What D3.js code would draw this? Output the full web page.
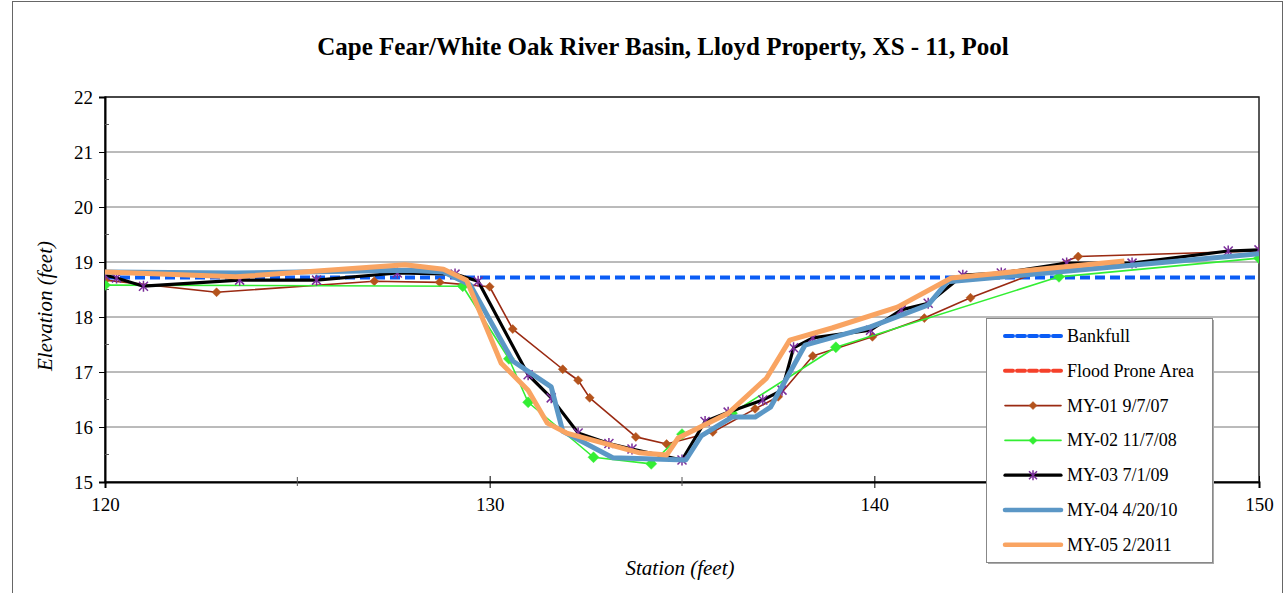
<!DOCTYPE html>
<html>
<head>
<meta charset="utf-8">
<script src="https://cdn.jsdelivr.net/npm/d3@7"></script>
<style>
  body { margin: 0; background: #fff; }
  svg { display: block; font-family: "Liberation Serif", "Times New Roman", serif; }
</style>
</head>
<body>
<svg id="chart" width="1288" height="593"></svg>
<script>
// cross section survey data, station (ft) vs elevation (ft)
var bankfullX = [120, 150];
var bankfullY = [18.72, 18.72];
// flood prone elevation sits above the plotted range, so nothing shows
var floodX = [];
var floodY = [];

var my01X = [120, 122.9, 127.0, 128.7, 130.0, 130.6, 131.9, 132.3, 132.6, 133.8, 134.6, 135.8, 136.9, 137.5, 138.4, 139.95, 141.3, 142.5, 145.3, 150];
var my01Y = [18.67, 18.45, 18.65, 18.63, 18.55, 17.78, 17.05, 16.85, 16.53, 15.82, 15.69, 15.91, 16.33, 16.55, 17.29, 17.64, 17.98, 18.35, 19.1, 19.2];

var my02X = [120, 129.3, 130.5, 131.0, 132.7, 134.2, 135.0, 136.3, 139.0, 144.8, 150];
var my02Y = [18.58, 18.56, 17.24, 16.45, 15.45, 15.33, 15.87, 16.25, 17.45, 18.73, 19.07];

var my03X = [120, 120.3, 121.0, 123.5, 125.5, 127.6, 129.1, 129.7, 131.0, 131.6, 132.3, 133.1, 133.7, 135.0, 135.6, 136.2, 137.1, 137.6, 137.9, 138.4, 139.9, 140.7, 141.4, 142.3, 143.3, 145.0, 146.7, 149.2, 150];
var my03Y = [18.76, 18.71, 18.56, 18.67, 18.67, 18.8, 18.78, 18.65, 16.95, 16.53, 15.89, 15.7, 15.6, 15.4, 16.1, 16.27, 16.49, 16.67, 17.44, 17.62, 17.76, 18.13, 18.25, 18.76, 18.8, 18.98, 18.98, 19.2, 19.22];

var my04X = [120, 123.4, 127.9, 128.8, 129.5, 130.6, 131.6, 131.9, 133.2, 135.1, 135.5, 136.3, 136.9, 137.3, 138.2, 139.9, 141.4, 141.9, 150];
var my04Y = [18.82, 18.8, 18.85, 18.82, 18.58, 17.2, 16.73, 15.92, 15.44, 15.4, 15.84, 16.18, 16.18, 16.36, 17.49, 17.82, 18.22, 18.64, 19.15];

var my05X = [120, 123.4, 127.8, 128.8, 129.4, 130.3, 131.0, 131.5, 132.0, 133.9, 134.6, 134.9, 136.2, 137.2, 137.8, 138.9, 140.6, 142.0, 146.5];
var my05Y = [18.82, 18.73, 18.95, 18.87, 18.67, 17.16, 16.67, 16.07, 15.89, 15.53, 15.49, 15.8, 16.25, 16.89, 17.58, 17.8, 18.18, 18.71, 19.02];

var xTicks = [120, 130, 140, 150];
var xMinor = [125, 135, 145];
var yTicks = [15, 16, 17, 18, 19, 20, 21, 22];
var yMinor = [15.5, 16.5, 17.5, 18.5, 19.5, 20.5, 21.5];

var titleText = "Cape Fear/White Oak River Basin, Lloyd Property, XS - 11, Pool";

function zip(xs, ys) {
	return xs.map(function(x, i) { return { x: x, y: ys[i] }; });
}

var series = [
	{ name: "Bankfull", pts: zip(bankfullX, bankfullY), color: "#0a5cf5", width: 4, dash: "10,5", marker: null },
	{ name: "Flood Prone Area", pts: zip(floodX, floodY), color: "#f5402a", width: 4, dash: "10,5", marker: null },
	{ name: "MY-01 9/7/07", pts: zip(my01X, my01Y), color: "#9a2a12", width: 1.6, marker: "diamond", mcolor: "#b4531c", msize: 9 },
	{ name: "MY-02 11/7/08", pts: zip(my02X, my02Y), color: "#33ee33", width: 1.6, marker: "diamond", mcolor: "#33ee33", msize: 11 },
	{ name: "MY-03 7/1/09", pts: zip(my03X, my03Y), color: "#000000", width: 3.2, marker: "star", mcolor: "#7a2e9a", msize: 9 },
	{ name: "MY-04 4/20/10", pts: zip(my04X, my04Y), color: "#5b97c6", width: 5, marker: null },
	{ name: "MY-05 2/2011", pts: zip(my05X, my05Y), color: "#f9a462", width: 5, marker: null }
];

var svg = d3.select("#chart");
var plotL = 105, plotR = 1259, plotT = 97, plotB = 482;

var x = d3.scaleLinear().domain([120, 150]).range([plotL, plotR]);
var y = d3.scaleLinear().domain([15, 22]).range([plotB, plotT]);

// outer frame
svg.append("rect").attr("x", 12.5).attr("y", 1.5).attr("width", 1270).attr("height", 640)
	.attr("fill", "none").attr("stroke", "#666").attr("stroke-width", 1);

svg.append("text").attr("x", 663).attr("y", 55).attr("text-anchor", "middle")
	.attr("font-size", 25).attr("font-weight", "bold").text(titleText);

// gridlines
svg.append("g").selectAll("line").data(yTicks.slice(1)).enter().append("line")
	.attr("x1", plotL).attr("x2", plotR)
	.attr("y1", function(d) { return y(d); }).attr("y2", function(d) { return y(d); })
	.attr("stroke", "#777").attr("stroke-width", 1);

// plot border
svg.append("rect").attr("x", plotL).attr("y", plotT).attr("width", plotR - plotL).attr("height", plotB - plotT)
	.attr("fill", "none").attr("stroke", "#222").attr("stroke-width", 1.5);

// y axis
var yAxis = d3.axisLeft(y).tickValues(yTicks).tickSize(6).tickPadding(6).tickFormat(d3.format("d"));
var gy = svg.append("g").attr("transform", "translate(" + plotL + ",0)").call(yAxis);
gy.select(".domain").attr("stroke", "#000").attr("stroke-width", 2);
gy.selectAll("text").attr("font-size", 19).attr("font-family", "Liberation Serif").attr("fill", "#000");
svg.append("g").selectAll("line").data(yMinor).enter().append("line")
	.attr("x1", plotL).attr("x2", plotL + 4)
	.attr("y1", function(d) { return y(d); }).attr("y2", function(d) { return y(d); })
	.attr("stroke", "#555");

// x axis
var xAxis = d3.axisBottom(x).tickValues(xTicks).tickSize(6).tickPadding(10).tickFormat(d3.format("d"));
var gx = svg.append("g").attr("transform", "translate(0," + plotB + ")").call(xAxis);
gx.select(".domain").attr("stroke", "#000").attr("stroke-width", 2);
gx.selectAll(".tick line").attr("y1", -6);
gx.selectAll("text").attr("font-size", 19).attr("font-family", "Liberation Serif").attr("fill", "#000");
svg.append("g").selectAll("line").data(xMinor).enter().append("line")
	.attr("x1", function(d) { return x(d); }).attr("x2", function(d) { return x(d); })
	.attr("y1", plotB - 5).attr("y2", plotB + 4)
	.attr("stroke", "#555");

svg.append("text").attr("x", 680).attr("y", 575).attr("text-anchor", "middle")
	.attr("font-size", 21).attr("font-style", "italic").text("Station (feet)");
svg.append("text").attr("transform", "translate(52,306) rotate(-90)").attr("text-anchor", "middle")
	.attr("font-size", 21).attr("font-style", "italic").text("Elevation (feet)");

// series
svg.append("clipPath").attr("id", "plotclip").append("rect")
	.attr("x", plotL).attr("y", plotT).attr("width", plotR - plotL).attr("height", plotB - plotT);

var line = d3.line().x(function(d) { return x(d.x); }).y(function(d) { return y(d.y); });

function drawMarker(g, type, cx, cy, s, color) {
	if (type === "diamond") {
		var h = s / 2;
		g.append("path").attr("d", "M" + cx + "," + (cy - h) + "L" + (cx + h) + "," + cy + "L" + cx + "," + (cy + h) + "L" + (cx - h) + "," + cy + "Z")
			.attr("fill", color).attr("stroke", color).attr("stroke-width", 0.5);
	} else if (type === "star") {
		var r = s / 2;
		var p = "M" + (cx - r) + "," + (cy - r) + "L" + (cx + r) + "," + (cy + r)
			+ "M" + (cx - r) + "," + (cy + r) + "L" + (cx + r) + "," + (cy - r)
			+ "M" + cx + "," + (cy - r - 1) + "L" + cx + "," + (cy + r + 1);
		g.append("path").attr("d", p).attr("stroke", color).attr("stroke-width", 1.5).attr("fill", "none");
	}
}

var plot = svg.append("g").attr("clip-path", "url(#plotclip)");
series.forEach(function(s) {
	if (!s.pts.length) return;
	var g = plot.append("g");
	g.append("path").datum(s.pts).attr("d", line)
		.attr("fill", "none").attr("stroke", s.color).attr("stroke-width", s.width)
		.attr("stroke-dasharray", s.dash || null).attr("stroke-linejoin", "round");
	if (s.marker) {
		s.pts.forEach(function(d) { drawMarker(g, s.marker, x(d.x), y(d.y), s.msize, s.mcolor); });
	}
});

// legend
var lg = svg.append("g");
lg.append("rect").attr("x", 988).attr("y", 320).attr("width", 226).attr("height", 244).attr("fill", "#aaa");
lg.append("rect").attr("x", 986.5).attr("y", 318.5).attr("width", 226).attr("height", 244)
	.attr("fill", "#fff").attr("stroke", "#888").attr("stroke-width", 1);
series.forEach(function(s, i) {
	var ly = 336 + i * 34.8;
	lg.append("line").attr("x1", 1005).attr("x2", 1061).attr("y1", ly).attr("y2", ly)
		.attr("stroke", s.color).attr("stroke-width", Math.min(s.width, 4.5))
		.attr("stroke-dasharray", s.dash ? "8,4" : null).attr("stroke-linecap", "round");
	if (s.marker) drawMarker(lg, s.marker, 1033, ly, 8, s.mcolor);
	lg.append("text").attr("x", 1067).attr("y", ly + 6).attr("font-size", 18).text(s.name);
});
</script>
</body>
</html>
